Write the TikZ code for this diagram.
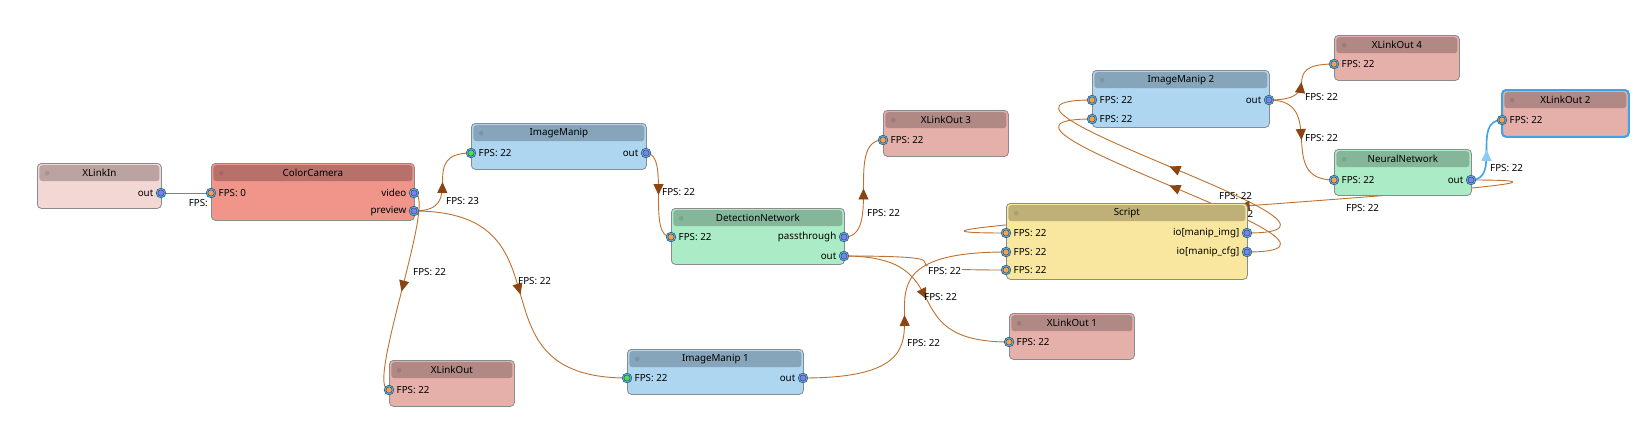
\documentclass[tikz,border=0pt]{standalone}
\usepackage{fontspec}
\setmainfont{Noto Sans}
\usetikzlibrary{arrows.meta,decorations.markings}
\definecolor{inbody}{HTML}{F2D7D5}
\definecolor{inhead}{HTML}{BBA3A1}
\definecolor{cambody}{HTML}{F1948A}
\definecolor{camhead}{HTML}{B8716A}
\definecolor{manipbody}{HTML}{AED6F1}
\definecolor{maniphead}{HTML}{86A5BB}
\definecolor{nnbody}{HTML}{ABEBC6}
\definecolor{nnhead}{HTML}{86B69A}
\definecolor{outbody}{HTML}{E6B0AA}
\definecolor{outhead}{HTML}{B08884}
\definecolor{scriptbody}{HTML}{F9E79F}
\definecolor{scripthead}{HTML}{BFB078}
\definecolor{rim}{HTML}{888C8E}
\definecolor{portrim}{HTML}{24465C}
\definecolor{portring}{HTML}{5DADE2}
\definecolor{portin}{HTML}{F5A04A}
\definecolor{portimg}{HTML}{4CE24C}
\definecolor{portout}{HTML}{7F80F0}
\definecolor{wirebrown}{HTML}{C0712F}
\definecolor{wiretip}{HTML}{8B4513}
\definecolor{selwire}{HTML}{3FA3E8}
\definecolor{seltip}{HTML}{8CCBF5}
\pgfdeclarelayer{edges}
\pgfsetlayers{edges,main}
\begin{document}
\begin{tikzpicture}[x=1pt, y=-1pt, font=\fontsize{9.8}{12}\selectfont,
		block/.style={draw=rim, line width=0.8pt, rounded corners=4pt, inner sep=0pt, anchor=north west},
		blockhead/.style={rounded corners=3pt, inner sep=0pt, minimum height=16pt, anchor=north},
		port/.style={circle, draw=portrim, double=portring, double distance=1pt, line width=0.55pt, inner sep=0pt, minimum size=8pt},
		wire/.style={draw=wirebrown, line width=0.9pt},
		midtip/.style={postaction={decorate, decoration={markings, mark=at position 0.5 with {\arrow{Triangle[length=11pt, width=10pt, color=#1]}}}}},
		midtip/.default=wiretip,
		fps/.style={anchor=west, inner sep=0pt}]
	\useasboundingbox (0,0) rectangle (1650,440);

	\foreach \nm/\x/\y/\w/\h/\bd/\hd/\ttl in {
			xin/37/163/124/45/inbody/inhead/XLinkIn,
			cam/211/163/203/57/cambody/camhead/ColorCamera,
			manip/471/123/175/46/manipbody/maniphead/ImageManip,
			det/671/208/173/56/nnbody/nnhead/DetectionNetwork,
			xout3/883/110/125/46/outbody/outhead/XLinkOut 3,
			manip2/1092/70/177/57/manipbody/maniphead/ImageManip 2,
			xout4/1334/35/125/45/outbody/outhead/XLinkOut 4,
			nn/1334/149/137/46/nnbody/nnhead/NeuralNetwork,
			xout2/1502/90/126/46/outbody/outhead/XLinkOut 2,
			script/1006/203/241/76/scriptbody/scripthead/Script,
			xout/389/360/125/46/outbody/outhead/XLinkOut,
			manip1/627/349/176/45/manipbody/maniphead/ImageManip 1,
			xout1/1009/313/125/46/outbody/outhead/XLinkOut 1} {
		\node[block, fill=\bd, minimum width=\w, minimum height=\h] (\nm) at (\x,\y) {};
		\node[blockhead, fill=\hd, minimum width=\w-4] (\nm-h) at ([yshift=-2pt]\nm.north) {\ttl};
		\fill[fill=\hd!70!black, opacity=0.3] ([xshift=8pt]\nm-h.west) circle (2.4pt);
	}
	\draw[selwire, line width=2pt, rounded corners=4pt] (xout2.north west) rectangle (xout2.south east);

	\foreach \pn/\x/\y/\pc/\txt in {
			cam-in/211/193/portin/FPS: 0,
			manip-in/471/153/portimg/FPS: 22,
			det-in/671/237/portin/FPS: 22,
			xout3-in/883/140/portin/FPS: 22,
			manip2-a/1092/100/portin/FPS: 22,
			manip2-b/1092/119/portin/FPS: 22,
			xout4-in/1334/64/portin/FPS: 22,
			nn-in/1334/180/portin/FPS: 22,
			xout2-in/1502/120/portin/FPS: 22,
			script-a/1006/233/portin/FPS: 22,
			script-b/1006/252/portin/FPS: 22,
			script-c/1006/270/portin/FPS: 22,
			xout-in/389/390/portin/FPS: 22,
			manip1-in/627/378/portimg/FPS: 22,
			xout1-in/1009/342/portin/FPS: 22} {
		\node[port, fill=\pc] (\pn) at (\x,\y) {};
		\node[anchor=west, inner sep=0pt] (\pn-t) at ([xshift=7.5pt]\pn.center) {\txt};
	}
	\foreach \pn/\x/\y/\txt in {
			xin-out/161/193/out,
			cam-video/414/193/video,
			cam-preview/414/211/preview,
			manip-out/646/153/out,
			det-pass/844/237/passthrough,
			det-out/844/256/out,
			manip2-out/1269/100/out,
			nn-out/1471/180/out,
			script-img/1247/233/{io[manip\_img]},
			script-cfg/1247/252/{io[manip\_cfg]},
			manip1-out/803/378/out} {
		\node[port, fill=portout] (\pn) at (\x,\y) {};
		\node[anchor=east, inner sep=0pt] (\pn-t) at ([xshift=-7.5pt]\pn.center) {\txt};
	}

	\begin{pgfonlayer}{edges}
		\fill[white] (0,0) rectangle (1650,440);
		\draw[wire] (xin-out.center) -- (cam-in.center);
		\draw[wire, midtip] (cam-preview.center) .. controls +(56,0) and +(-56,0) .. (manip-in.center);
		\draw[wire, midtip] (cam-video.center) .. controls +(25,0) and +(-25,0) .. (xout-in.center);
		\draw[wire, midtip] (cam-preview.center) .. controls +(165,0) and +(-165,0) .. (manip1-in.center);
		\draw[wire, midtip] (manip-out.center) .. controls +(25,0) and +(-25,0) .. (det-in.center);
		\draw[wire, midtip] (det-pass.center) .. controls +(39,0) and +(-39,0) .. (xout3-in.center);
		\draw[wire, midtip] (det-out.center) .. controls +(120,0) and +(-120,0) .. (xout1-in.center);
		\draw[wire] (det-out.center) .. controls +(162,0) and +(-162,0) .. (script-c.center);
		\draw[wire, midtip] (manip1-out.center) .. controls +(205,0) and +(-205,0) .. (script-b.center);
		\draw[wire, midtip] (script-img.center) .. controls +(160,0) and +(-160,0) .. (manip2-a.center);
		\draw[wire, midtip] (script-cfg.center) .. controls +(160,0) and +(-160,0) .. (manip2-b.center);
		\draw[wire, midtip] (manip2-out.center) .. controls +(60,0) and +(-60,0) .. (xout4-in.center);
		\draw[wire, midtip] (manip2-out.center) .. controls +(60,0) and +(-60,0) .. (nn-in.center);
		\draw[wire, midtip] (nn-out.center) .. controls +(250,0) and +(-250,0) .. (script-a.center);
		\draw[wire, draw=selwire, line width=1.6pt, midtip=seltip] (nn-out.center) .. controls +(31,0) and +(-31,0) .. (xout2-in.center);

		\node[anchor=east, inner sep=0pt] (lbl-cam) at (208,203) {FPS:};
		\node[fps] (lbl-manip) at (446,201) {FPS: 23};
		\node[fps] (lbl-xout) at (413,272) {FPS: 22};
		\node[fps] (lbl-manip1) at (518,281) {FPS: 22};
		\node[fps] (lbl-det) at (662,192) {FPS: 22};
		\node[fps] (lbl-xout3) at (867,213) {FPS: 22};
		\node[fps, fill=white, inner sep=1pt] (lbl-script-c) at (927,271) {FPS: 22};
		\node[fps] (lbl-xout1) at (924,297) {FPS: 22};
		\node[fps] (lbl-script-b) at (907,343) {FPS: 22};
		\node[fps] (lbl-manip2-a) at (1219,196) {FPS: 22};
		\node[fps] (lbl-manip2-b) at (1247.5,214) {2};
		\node[fps] (lbl-xout4) at (1305,97) {FPS: 22};
		\node[fps] (lbl-nn) at (1305,138) {FPS: 22};
		\node[fps] (lbl-xout2) at (1490,168) {FPS: 22};
		\node[fps] (lbl-script-a) at (1346,208) {FPS: 22};
	\end{pgfonlayer}
\end{tikzpicture}
\end{document}
